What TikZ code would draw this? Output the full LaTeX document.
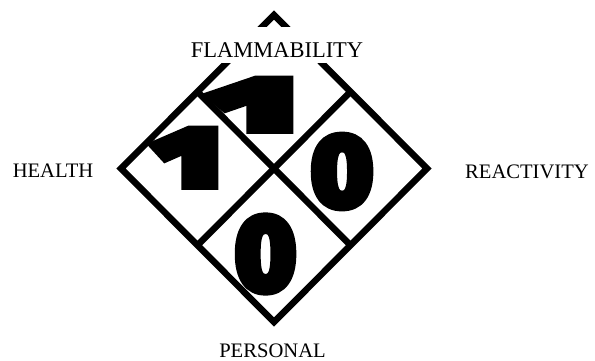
\documentclass[tikz,border=0pt]{standalone}
\usepackage{fontspec}
\setmainfont{Liberation Serif}
\newfontfamily\digitfont[FakeBold=9]{Fira Sans Bold}
\usetikzlibrary{calc}

\begin{document}
\begin{tikzpicture}[x=1pt, y=-1pt,
    hazlabel/.style={font=\fontsize{20.6}{24}\selectfont, inner sep=0pt, anchor=base},
    rating/.style={inner sep=0pt, font=\digitfont},
    frame/.style={line width=6.5pt, line join=miter, miter limit=10}
]
    \useasboundingbox (0,0) rectangle (595,360);

    % outer diamond
    \coordinate (top) at (274,15);
    \coordinate (right) at (427,168.5);
    \coordinate (bottom) at (274,322);
    \coordinate (left) at (121,168.5);
    \draw[frame] (top) -- (right) -- (bottom) -- (left) -- cycle;
    \draw[frame] ($(top)!0.5!(left)$) -- ($(right)!0.5!(bottom)$);
    \draw[frame] ($(top)!0.5!(right)$) -- ($(left)!0.5!(bottom)$);

    % ratings
    \begin{scope}
        \clip (0,0) rectangle (595,133);
        \node[rating] (flamval) at (256,117) {\resizebox{89pt}{73pt}{1}};
    \end{scope}
    \begin{scope}
        \clip (0,0) rectangle (595,189);
        \node[rating] (healthval) at (189,167) {\resizebox{70pt}{73pt}{1}};
    \end{scope}
    \node[rating] (reactval) at (342,171.5) {\resizebox{61pt}{69pt}{0}};
    \node[rating] (persval) at (265.5,254) {\resizebox{60pt}{72pt}{0}};

    % labels
    \node[hazlabel, font=\fontsize{22.5}{26}\selectfont, fill=white,
          text height=30pt, text depth=6pt, minimum width=170pt] (flam) at (277,57) {FLAMMABILITY};
    \node[hazlabel] (health) at (53,177) {HEALTH};
    \node[hazlabel] (react) at (527,178) {REACTIVITY};
    \node[hazlabel] (personal) at (272.5,357) {PERSONAL};
\end{tikzpicture}
\end{document}
